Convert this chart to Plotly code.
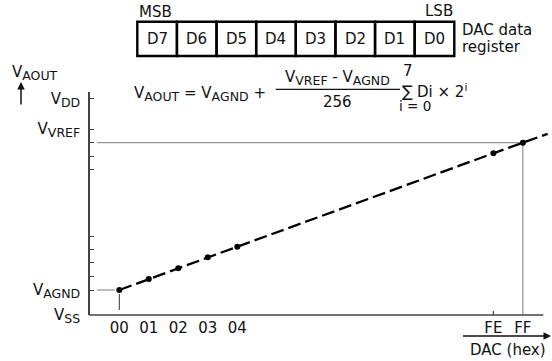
import plotly.graph_objects as go

W, H = 552, 361


def S(t, size=12.5):
    return f"<sub><span style='font-size:{size}px'>{t}</span></sub>"


# ---------------- data ----------------
codes = ["00", "01", "02", "03", "04", "FE", "FF"]
code_values = [0, 1, 2, 3, 4, 254, 255]
# output level for each code (arbitrary units above V_SS)
v_out = [25.0, 36.0, 46.7, 57.7, 68.3, 161.7, 172.3]
bits = ["D7", "D6", "D5", "D4", "D3", "D2", "D1", "D0"]
y_tick_vals = [0, 25, 39, 52.3, 65.7, 79, 146, 159, 172.3, 186, 216.5]
y_tick_text = ["V" + S("SS"), "V" + S("AGND"), "", "", "", "", "", "", "",
               "V" + S("VREF"), "V" + S("DD")]

# ---------------- layout helpers ----------------
FONT = "DejaVu Sans, Liberation Sans, Arial, sans-serif"
TXT = "#111111"
AX = "#444444"
GUIDE = "#7a7a7a"
FS = 15

BREAK_AFTER = 4          # axis break between 04 and FE
BREAK_GAP = 241.32


def pos(c):
    return c if c <= BREAK_AFTER else c - BREAK_GAP


x_pos = [pos(c) for c in code_values]

PXU = 29.5               # pixels per x unit
X0PX = 119.3             # pixel of code 00
Y0PX = 315.0             # pixel of V_SS (y units are pixels)


def px(x):
    return x / W


def py(y):
    return 1 - y / H


def xu(xpx):
    return (xpx - X0PX) / PXU


x_range = [xu(90), xu(552)]
y_range = [0, Y0PX - 92]

# extension of the transfer line past FF
slope = (v_out[-1] - v_out[-2]) / (x_pos[-1] - x_pos[-2])
ext = 0.84
line_x = x_pos + [x_pos[-1] + ext]
line_y = v_out + [v_out[-1] + slope * ext]

fig = go.Figure()

# gray guide lines
fig.add_trace(go.Scatter(x=[xu(97), x_pos[-1], x_pos[-1]], y=[v_out[-1], v_out[-1], 0],
                         mode="lines", line=dict(color=GUIDE, width=1), hoverinfo="skip"))
fig.add_trace(go.Scatter(x=[xu(97), x_pos[0] - 0.15], y=[v_out[0], v_out[0]],
                         mode="lines", line=dict(color=GUIDE, width=1), hoverinfo="skip"))
fig.add_trace(go.Scatter(x=[x_pos[0], x_pos[0]], y=[v_out[0] - 4, 5],
                         mode="lines", line=dict(color="#333333", width=1), hoverinfo="skip"))

# transfer line
fig.add_trace(go.Scatter(x=line_x, y=line_y, mode="lines",
                         line=dict(color="black", width=2.3, dash="13px,5px"), hoverinfo="skip"))
fig.add_trace(go.Scatter(x=x_pos, y=v_out, mode="markers",
                         marker=dict(color="black", size=6), hoverinfo="skip"))

fig.update_layout(
    width=W, height=H, margin=dict(l=0, r=0, t=0, b=0, autoexpand=False),
    paper_bgcolor="white", plot_bgcolor="white", showlegend=False,
    font=dict(family=FONT, size=FS, color=TXT),
    xaxis=dict(domain=[90 / W, 1], range=x_range, showline=False, showgrid=False,
               zeroline=False, tickvals=x_pos, ticktext=codes, ticks="",
               tickfont=dict(size=FS, color=TXT), anchor="y", automargin=False,
               ticklabelstandoff=2),
    yaxis=dict(domain=[py(Y0PX), py(92)], range=y_range, showline=True, linecolor=AX,
               linewidth=1.6, showgrid=False, zeroline=False, tickvals=y_tick_vals,
               ticktext=y_tick_text, ticks="inside", ticklen=4, tickwidth=1.2,
               tickcolor=AX, tickfont=dict(size=FS, color=TXT), anchor="x",
               automargin=False, ticklabelstandoff=5),
)

shapes = []
# x axis line
shapes.append(dict(type="line", xref="paper", yref="paper", x0=px(89.2), x1=px(543.3),
                   y0=py(Y0PX), y1=py(Y0PX), line=dict(color=AX, width=1.6)))
# FE tick
shapes.append(dict(type="line", xref="x", yref="paper", x0=x_pos[5], x1=x_pos[5],
                   y0=py(Y0PX), y1=py(Y0PX - 4), line=dict(color=AX, width=1.2)))
# register boxes
RX0, RX1, RY0, RY1 = 137.3, 454.3, 21.7, 56.0
cw = (RX1 - RX0) / len(bits)
annotations = []
for i, b in enumerate(bits):
    shapes.append(dict(type="rect", xref="paper", yref="paper",
                       x0=px(RX0 + i * cw), x1=px(RX0 + (i + 1) * cw),
                       y0=py(RY1), y1=py(RY0), line=dict(color="black", width=2.4)))
    annotations.append(dict(x=px(RX0 + (i + 0.5) * cw), y=py(39.5), xref="paper", yref="paper",
                            text=b, showarrow=False, xanchor="center", yanchor="middle"))
# fraction bar
shapes.append(dict(type="line", xref="paper", yref="paper", x0=px(275.7), x1=px(400),
                   y0=py(89.3), y1=py(89.3), line=dict(color=TXT, width=1.2)))


def txt(x, y, t, xa="center", ya="middle", size=FS):
    annotations.append(dict(x=px(x), y=py(y), xref="paper", yref="paper", text=t,
                            showarrow=False, xanchor=xa, yanchor=ya,
                            font=dict(size=size, color=TXT, family=FONT)))


txt(136.5, 12, "MSB", xa="left")
txt(454.5, 11, "LSB", xa="right")
txt(460, 30, "DAC data", xa="left")
txt(460, 46.5, "register", xa="left")
txt(10, 73, "V" + S("AOUT"), xa="left")
txt(268, 94, "V" + S("AOUT") + " = V" + S("AGND") + " +", xa="right")
txt(337, 90.5, "V" + S("VREF") + " - V" + S("AGND"), ya="bottom")
txt(337, 91, "256", ya="top")
txt(407.7, 70.5, "7")
txt(407.5, 91, "∑", size=16)
txt(414.5, 106.5, "i = 0", size=13.5)
txt(415, 91, "Di × 2<sup>i</sup>", xa="left")
txt(508, 350, "DAC (hex)")

# arrows
annotations.append(dict(x=px(21), y=py(82), xref="paper", yref="paper", ax=0, ay=24,
                        text="", showarrow=True, arrowhead=2, arrowsize=1, arrowwidth=1.5,
                        arrowcolor=TXT))
annotations.append(dict(x=px(551.5), y=py(336), xref="paper", yref="paper", ax=-90, ay=0,
                        text="", showarrow=True, arrowhead=2, arrowsize=1, arrowwidth=1.5,
                        arrowcolor=TXT))

fig.update_layout(shapes=shapes, annotations=annotations)
fig.write_html("out.html")
